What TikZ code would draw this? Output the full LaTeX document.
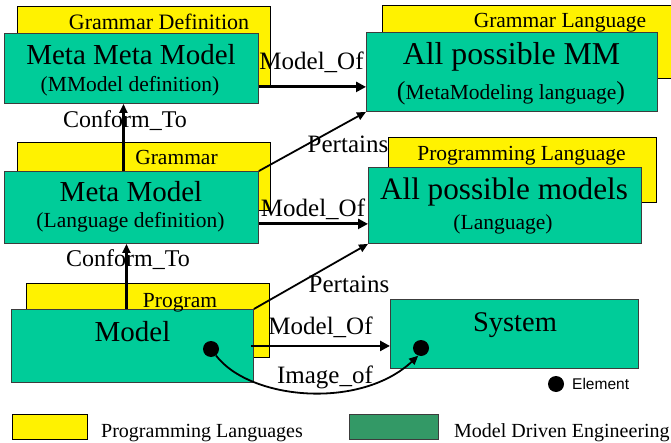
\documentclass[tikz,border=0pt]{standalone}
\usepackage{fontspec}
\setmainfont{Liberation Serif}
\newfontfamily\arialfont{Liberation Sans}
\usetikzlibrary{arrows.meta}
\definecolor{mdegreen}{RGB}{0,204,153}
\definecolor{legendgreen}{RGB}{51,153,102}
\definecolor{boxline}{RGB}{60,60,60}
\begin{document}
\begin{tikzpicture}[x=1pt,y=-1pt,
  ybox/.style={draw=black, line width=0.8pt, fill=yellow, anchor=north west, inner sep=0pt},
  gbox/.style={draw=boxline, line width=0.9pt, fill=mdegreen, anchor=north west, inner sep=0pt},
  txt/.style={anchor=base, inner sep=0pt, font=\fontsize{#1}{#1}\selectfont},
  txt/.default=21.5,
  modelof/.style={line width=2.8pt, -{Triangle[length=10pt,width=10pt]}},
  conformto/.style={line width=2.2pt, -{Triangle[length=9pt,width=8pt]}},
  pertains/.style={line width=1.8pt, -{Triangle[length=9pt,width=8pt]}},
  imageof/.style={line width=1.8pt, -{Triangle[length=9pt,width=8pt]}},
  elemdot/.style={circle, fill=black, inner sep=0pt, minimum size=16pt}
]
\useasboundingbox (0,0) rectangle (671,443);
\fill[white] (0,0) rectangle (671,443);
% yellow boxes
\node[ybox, minimum width=253pt, minimum height=79pt] (gdef) at (17,6) {};
\node[ybox, minimum width=310pt, minimum height=73pt] (glang) at (382,5) {};
\node[ybox, minimum width=253pt, minimum height=68pt] (gram) at (17,142) {};
\node[ybox, minimum width=268pt, minimum height=65pt] (plang) at (388,137) {};
\node[ybox, minimum width=243pt, minimum height=74pt] (prog) at (26,283) {};
% green boxes
\node[gbox, minimum width=254pt, minimum height=70pt] (mmm) at (4,33) {};
\node[gbox, minimum width=291pt, minimum height=79pt] (ammm) at (366,32) {};
\node[gbox, minimum width=254pt, minimum height=72pt] (mm) at (4,171) {};
\node[gbox, minimum width=273pt, minimum height=76pt] (apm) at (368,167) {};
\node[gbox, minimum width=242pt, minimum height=73pt] (model) at (11,309) {};
\node[gbox, minimum width=248pt, minimum height=69pt] (sys) at (390,299) {};
% legend boxes
\node[ybox, minimum width=75pt, minimum height=25pt] (legy) at (12,414) {};
\node[gbox, fill=legendgreen, minimum width=89pt, minimum height=25pt] (legg) at (349,414) {};
% connectors
\coordinate (mo1) at ([yshift=17pt]mmm.south east);
\draw[modelof] (mo1) -- (mo1 -| ammm.west);
\coordinate (ct1) at ([xshift=-8pt]mm.north);
\draw[conformto] (ct1) -- (ct1 |- mmm.south);
\draw[pertains] (mm.north east) -- (ammm.south west);
\coordinate (mo2) at ([yshift=20pt]mm.south east);
\draw[modelof] (mo2) -- (mo2 -| apm.west);
\coordinate (ct2) at ([xshift=-6pt]model.north);
\draw[conformto] (ct2) -- (ct2 |- mm.south);
\draw[pertains] (model.north east) -- (apm.south west);
\coordinate (mo3) at ([xshift=-3pt]model.east);
\draw[modelof] (mo3) -- (mo3 -| sys.west);
\node[elemdot] (d1) at (211,349) {};
\node[elemdot] (d2) at (421,348) {};
\draw[imageof] (d1) .. controls (250,400) and (360,410) .. (d2.250);
\node[elemdot] (d3) at (556,384) {};
% texts
\node[txt=22] (t1) at (159,30) {Grammar Definition};
\node[txt=29] (t2) at (131,65) {Meta Meta Model};
\node[txt] (t3) at (130,92) {(MModel definition)};
\node[txt=25] (t4) at (311.5,70) {Model\_Of};
\node[txt=24] (t5) at (125,128) {Conform\_To};
\node[txt] (t6) at (560,28) {Grammar Language};
\node[txt=31.8] (t7) at (511.5,65) {All possible MM};
\node[txt] (t8) at (511,100) {{\fontsize{26}{26}\selectfont(}MetaModeling language{\fontsize{26}{26}\selectfont)}};
\node[txt=25] (t9) at (348,153) {Pertains};
\node[txt] (t10) at (176.5,165) {Grammar};
\node[txt=29] (t11) at (131,202) {Meta Model};
\node[txt] (t12) at (130.5,228) {(Language definition)};
\node[txt=25] (t13) at (313,217) {Model\_Of};
\node[txt=24] (t14) at (128,266) {Conform\_To};
\node[txt] (t15) at (521.5,161) {Programming Language};
\node[txt=31.2] (t16) at (504,200) {All possible models};
\node[txt] (t17) at (503,230) {(Language)};
\node[txt=25] (t18) at (349,292) {Pertains};
\node[txt] (t19) at (180,307) {Program};
\node[txt=29] (t20) at (132.5,341) {Model};
\node[txt=25] (t21) at (320.5,334) {Model\_Of};
\node[txt=28.5] (t22) at (515,331) {System};
\node[txt=25] (t23) at (325,383) {Image\_of};
\node[anchor=base west, inner sep=0pt, font=\arialfont\fontsize{15.5}{15.5}\selectfont] (t24) at (572,389) {Element};
\node[anchor=base west, inner sep=0pt, font=\fontsize{20}{20}\selectfont] (t25) at (101,437) {Programming Languages};
\node[anchor=base west, inner sep=0pt, font=\fontsize{20}{20}\selectfont] (t26) at (454,437) {Model Driven Engineering};
\end{tikzpicture}
\end{document}
